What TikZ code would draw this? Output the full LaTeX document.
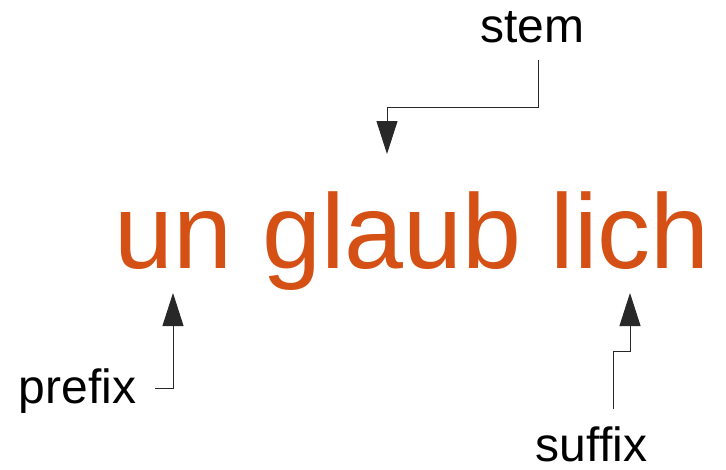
\documentclass[tikz,border=0pt]{standalone}
\usepackage{fontspec}
\setmainfont{Liberation Sans}
\usetikzlibrary{arrows.meta}
\definecolor{wordorange}{RGB}{212,80,20}
\definecolor{linegray}{RGB}{40,40,40}
\begin{document}
\begin{tikzpicture}[x=1pt,y=-1pt,
  lbl/.style={inner sep=0pt,anchor=base,font=\fontsize{48}{56}\selectfont},
  word/.style={inner sep=0pt,anchor=base,text=wordorange,font=\fontsize{106}{126}\selectfont},
  conn/.style={draw=linegray,line width=1pt,-{Triangle[width=21pt,length=33pt]}}]
\useasboundingbox (0,0) rectangle (726,469);
\node[word] (w) at (412.5,268) {un glaub lich};
\node[lbl] (stem) at (532.5,42) {stem};
\node[lbl] (prefix) at (77.5,403) {prefix};
\node[lbl] (suffix) at (591.5,461) {suffix};
\coordinate (stemS) at (538,60);
\coordinate (stemT) at (387,154);
\coordinate (prefS) at (155,388);
\coordinate (prefT) at (173,293);
\coordinate (sufS) at (613,409);
\coordinate (sufT) at (630,293);
\draw[conn] (stemS) -- (538,107) -| (stemT);
\draw[conn] (prefS) -| (prefT);
\draw[conn] (sufS) -- (613,351) -| (sufT);
\end{tikzpicture}
\end{document}
